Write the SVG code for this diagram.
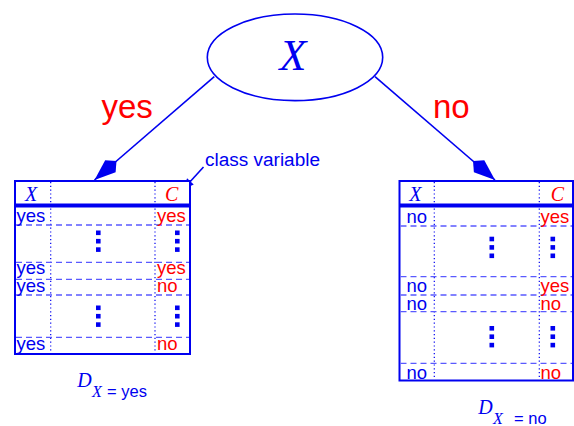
<svg xmlns="http://www.w3.org/2000/svg" xmlns:xlink="http://www.w3.org/1999/xlink" width="574" height="426" viewBox="0 0 574 426">
<style>
.tbl{fill:#fff;stroke:#0000f0;stroke-width:2}
.hdr{stroke:#0000f0;stroke-width:4}
.dash{stroke:#5a5aff;stroke-width:1.3;stroke-dasharray:6 4;fill:none}
.dot{stroke:#0000f0;stroke-width:1.2;stroke-dasharray:1.2 2.6;fill:none}
.tx{font-family:"Liberation Sans",Arial,sans-serif;font-size:18.5px}
.it{font-family:"Liberation Serif","Times New Roman",serif;font-style:italic}
.b{fill:#0000f0}
.r{fill:#ff0000}
.edge{stroke:#0000f0;stroke-width:1.6;fill:none}
</style>
<defs>
<marker id="kite" markerUnits="userSpaceOnUse" viewBox="-32 -10 34 20" refX="0" refY="0" markerWidth="34" markerHeight="20" orient="auto">
<path d="M0,0 L-21,-8 L-29,0 L-21,8 Z" fill="#0000f0"/>
</marker>
<marker id="tri" markerUnits="userSpaceOnUse" viewBox="-12 -6 14 12" refX="0" refY="0" markerWidth="14" markerHeight="12" orient="auto">
<path d="M0,0 L-11,-4.5 L-11,4.5 Z" fill="#0000f0"/>
</marker>
<g id="vd" fill="#0000f0">
<rect x="0" y="0" width="4.6" height="4.6"/>
<rect x="0" y="8.4" width="4.6" height="4.6"/>
<rect x="0" y="16.8" width="4.6" height="4.6"/>
</g>
</defs>

<g id="connectors">
<line class="edge" x1="214.3" y1="76.7" x2="94.5" y2="180" marker-end="url(#kite)"/>
<line class="edge" x1="375" y1="76.7" x2="495" y2="180" marker-end="url(#kite)"/>
<line class="edge" x1="203.5" y1="167" x2="183" y2="189.5" stroke-width="1.4" marker-end="url(#tri)"/>
</g>

<g id="labels">
<text class="tx r" x="101.5" y="118.3" style="font-size:33px">yes</text>
<text class="tx r" x="433" y="118.3" style="font-size:33px">no</text>
<text class="tx b" x="205" y="165.7" style="font-size:18px" textLength="115" lengthAdjust="spacingAndGlyphs">class variable</text>
</g>

<g id="root">
<ellipse cx="295" cy="57.3" rx="87.7" ry="43.3" fill="#fff" stroke="#0000f0" stroke-width="1.6"/>
<text class="it b" x="293" y="70" text-anchor="middle" style="font-size:44px">X</text>
</g>

<g id="table-yes">
<rect class="tbl" x="15" y="181" width="175" height="173"/>
<line class="dot" x1="50.7" y1="182" x2="50.7" y2="353"/>
<line class="dot" x1="155" y1="182" x2="155" y2="353"/>
<line class="hdr" x1="15" y1="205.5" x2="190" y2="205.5"/>
<line class="dash" x1="16" y1="225" x2="189" y2="225"/>
<line class="dash" x1="16" y1="262.3" x2="189" y2="262.3"/>
<line class="dash" x1="16" y1="279.3" x2="189" y2="279.3"/>
<line class="dash" x1="16" y1="295" x2="189" y2="295"/>
<line class="dash" x1="16" y1="337.3" x2="189" y2="337.3"/>
<text class="it b" x="25" y="201" style="font-size:20px">X</text>
<text class="it r" x="165" y="201" style="font-size:20px">C</text>
<text class="tx b" x="16.5" y="222">yes</text>
<text class="tx b" x="16.5" y="274">yes</text>
<text class="tx b" x="16.5" y="292">yes</text>
<text class="tx b" x="16.5" y="350">yes</text>
<text class="tx r" x="157" y="222">yes</text>
<text class="tx r" x="157" y="274">yes</text>
<text class="tx r" x="157" y="292">no</text>
<text class="tx r" x="157" y="350">no</text>
<use xlink:href="#vd" x="96" y="230.5"/>
<use xlink:href="#vd" x="175" y="230.5"/>
<use xlink:href="#vd" x="96" y="305.5"/>
<use xlink:href="#vd" x="175" y="305.5"/>
</g>

<g id="table-no">
<rect class="tbl" x="399.5" y="181" width="173.5" height="199.5"/>
<line class="dot" x1="434.3" y1="182" x2="434.3" y2="379.5"/>
<line class="dot" x1="539.3" y1="182" x2="539.3" y2="379.5"/>
<line class="hdr" x1="399.5" y1="205.5" x2="573" y2="205.5"/>
<line class="dash" x1="400.5" y1="226" x2="572" y2="226"/>
<line class="dash" x1="400.5" y1="276.7" x2="572" y2="276.7"/>
<line class="dash" x1="400.5" y1="295" x2="572" y2="295"/>
<line class="dash" x1="400.5" y1="311.7" x2="572" y2="311.7"/>
<line class="dash" x1="400.5" y1="363.3" x2="572" y2="363.3"/>
<text class="it b" x="409.3" y="200.7" style="font-size:20px">X</text>
<text class="it r" x="550.7" y="200.7" style="font-size:20px">C</text>
<text class="tx b" x="406.5" y="223">no</text>
<text class="tx b" x="406.5" y="292">no</text>
<text class="tx b" x="406.5" y="309.5">no</text>
<text class="tx b" x="406.5" y="379">no</text>
<text class="tx r" x="540.5" y="223">yes</text>
<text class="tx r" x="540.5" y="292">yes</text>
<text class="tx r" x="540.5" y="309.5">no</text>
<text class="tx r" x="540.5" y="379">no</text>
<use xlink:href="#vd" x="489.5" y="236.7"/>
<use xlink:href="#vd" x="550.5" y="236.7"/>
<use xlink:href="#vd" x="489.5" y="326"/>
<use xlink:href="#vd" x="550.5" y="326"/>
</g>

<g id="caption-yes">
<text class="it b" x="77.3" y="386.7" style="font-size:20px">D</text>
<text class="it b" x="92" y="397" style="font-size:16px">X</text>
<text class="tx b" x="107" y="397" style="font-size:16.5px">= yes</text>
</g>

<g id="caption-no">
<text class="it b" x="478.3" y="413.5" style="font-size:20px">D</text>
<text class="it b" x="493" y="423.5" style="font-size:16px">X</text>
<text class="tx b" x="514" y="423.5" style="font-size:16.5px">= no</text>
</g>
</svg>
